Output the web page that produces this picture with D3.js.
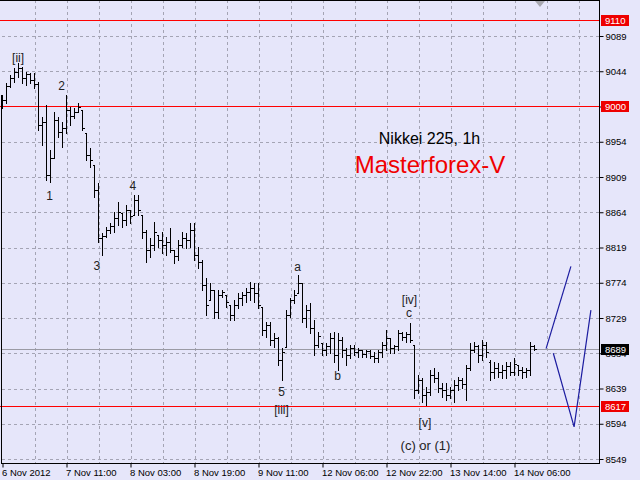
<!DOCTYPE html>
<html><head><meta charset="utf-8">
<script src="https://cdn.jsdelivr.net/npm/d3@7"></script>
<style>body{margin:0;background:#e6e6fa;overflow:hidden}svg{display:block}</style>
</head><body>
<svg id="c" width="640" height="480"></svg>
<script>
// ---- data ----
const timeLabels = ["6 Nov 2012","7 Nov 11:00","8 Nov 03:00","8 Nov 19:00","9 Nov 11:00","12 Nov 06:00","12 Nov 22:00","13 Nov 14:00","14 Nov 06:00"];
const timeLabelIdx = [0,16,32,48,64,80,96,112,128];
const priceTicks = [9089,9044,8999,8954,8909,8864,8819,8774,8729,8684,8639,8594,8549];
const high = [9014,9029,9039,9048,9055,9049,9043,9042,9042,9030,
8986,9001,8943,8992,8986,8979,9014,8998,8997,9003,
8995,8965,8946,8924,8901,8838,8845,8850,8864,8877,
8863,8873,8867,8886,8886,8860,8841,8831,8852,8835,
8839,8832,8844,8816,8829,8839,8838,8850,8850,8820,
8803,8780,8774,8765,8765,8765,8758,8746,8752,8761,
8762,8767,8775,8774,8774,8743,8724,8724,8710,8705,
8691,8739,8755,8765,8784,8774,8746,8748,8726,8711,
8697,8697,8710,8711,8710,8705,8691,8695,8695,8691,
8688,8688,8688,8686,8688,8698,8714,8704,8695,8714,
8711,8711,8723,8695,8656,8652,8641,8663,8665,8660,
8646,8646,8641,8650,8654,8652,8669,8697,8698,8695,
8701,8698,8675,8673,8672,8669,8673,8673,8678,8669,
8666,8665,8698,8695];
const low = [8997,9003,9024,9030,9037,9029,9026,9029,9023,8969,
8950,8905,8903,8933,8960,8947,8965,8975,8984,8992,
8969,8931,8922,8883,8826,8809,8832,8838,8839,8848,
8845,8848,8850,8860,8860,8831,8800,8807,8816,8820,
8812,8809,8813,8799,8803,8820,8818,8820,8803,8793,
8765,8733,8752,8729,8729,8756,8743,8726,8726,8742,
8746,8749,8752,8749,8742,8707,8705,8695,8692,8669,
8650,8692,8730,8748,8761,8724,8718,8710,8682,8692,
8682,8682,8684,8673,8663,8679,8669,8678,8682,8679,
8679,8679,8678,8673,8673,8679,8688,8684,8684,8688,
8701,8698,8698,8627,8633,8622,8618,8631,8647,8635,
8628,8624,8627,8622,8637,8640,8624,8663,8686,8673,
8675,8679,8650,8652,8654,8652,8652,8656,8656,8656,
8652,8654,8656,8688];
const open = [9002,9007,9025,9035,9043,9048,9035,9040,9033,9028,
8975,8979,8912,8933,8982,8966,8972,8995,8987,8992,
8995,8965,8937,8924,8892,8831,8834,8841,8846,8857,
8863,8854,8867,8860,8880,8860,8839,8816,8822,8835,
8829,8822,8826,8816,8808,8822,8831,8829,8841,8809,
8800,8771,8752,8765,8737,8758,8758,8746,8733,8746,
8755,8758,8762,8767,8761,8743,8714,8720,8701,8704,
8675,8692,8733,8752,8761,8774,8729,8739,8716,8695,
8697,8688,8693,8704,8682,8701,8688,8682,8691,8686,
8688,8683,8687,8680,8678,8686,8695,8704,8691,8693,
8710,8705,8709,8695,8637,8650,8631,8635,8656,8652,
8640,8637,8631,8637,8644,8650,8645,8665,8688,8693,
8682,8695,8673,8660,8665,8660,8663,8668,8660,8669,
8663,8660,8663,8693];
const close = [9007,9025,9035,9043,9048,9035,9040,9033,9028,8975,
8979,8912,8933,8982,8966,8972,8995,8987,8992,8998,
8972,8937,8931,8892,8831,8834,8841,8846,8857,8864,
8854,8867,8859,8880,8867,8839,8816,8822,8839,8829,
8822,8826,8816,8808,8822,8831,8829,8841,8809,8800,
8771,8746,8765,8737,8758,8762,8749,8733,8746,8755,
8758,8762,8767,8761,8746,8714,8720,8701,8704,8675,
8686,8733,8752,8758,8774,8729,8739,8716,8695,8706,
8688,8693,8704,8682,8701,8688,8682,8691,8686,8688,
8683,8687,8680,8678,8686,8695,8704,8691,8693,8710,
8705,8709,8701,8637,8650,8631,8635,8656,8652,8640,
8637,8631,8637,8644,8650,8645,8665,8688,8693,8682,
8695,8686,8660,8665,8660,8663,8668,8660,8670,8663,
8660,8663,8693,8689];
const levels = [9110, 9000, 8617];
const lastPrice = 8689;
const projUpIdx = [135.9, 142.1];
const projUpPrice = [8690, 8795];
const projDownIdx = [137.7, 142.9, 147.1];
const projDownPrice = [8684, 8590, 8739];
const waveText = ["[ii]","2","1","4","3","a","5","[iii]","b","[iv]","c","[v]","(c) or (1)"];
const waveIdx = [3.9,14.75,11.75,32.6,23.6,73.75,69.75,69.75,83.75,101.75,101.6,105.6,105.75];
const wavePrice = [9056,9020,8880,8892,8790,8789,8629,8606,8650,8747,8730,8590,8561];

// ---- chart ----
const svg = d3.select("#c");
const FONT = "'Liberation Sans', Arial, sans-serif";
const L = 2, R = 599, T = 0, B = 463;
const x = d3.scaleLinear().domain([0, 149]).range([2.5, 598.5]);
const y = d3.scaleLinear().domain([8549, 9089]).range([459, 36]);
const snap = v => Math.round(v) + 0.5;

svg.append("rect").attr("width", 640).attr("height", 480).attr("fill", "#e6e6fa");

const clip = svg.append("defs").append("clipPath").attr("id", "pc");
clip.append("rect").attr("x", L).attr("y", T).attr("width", R - L).attr("height", B - T);

const grid = svg.append("g").attr("stroke", "#a4a4b4").attr("stroke-dasharray", "3,3").attr("shape-rendering", "crispEdges");
priceTicks.forEach(p => grid.append("line").attr("x1", L).attr("x2", R).attr("y1", snap(y(p))).attr("y2", snap(y(p))));
d3.range(8, 150, 8).forEach(i => grid.append("line").attr("x1", snap(x(i))).attr("x2", snap(x(i))).attr("y1", T).attr("y2", B));

// current price line
svg.append("line").attr("x1", L).attr("x2", R).attr("y1", snap(y(lastPrice))).attr("y2", snap(y(lastPrice)))
  .attr("stroke", "#9a9aa4").attr("shape-rendering", "crispEdges");

// levels
svg.append("g").selectAll("line").data(levels).join("line")
  .attr("x1", 0).attr("x2", R).attr("y1", d => snap(y(d))).attr("y2", d => snap(y(d)))
  .attr("stroke", "#ff0000").attr("stroke-width", 1).attr("shape-rendering", "crispEdges");

// OHLC bars
const bars = svg.append("g").attr("clip-path", "url(#pc)").attr("stroke", "#000").attr("stroke-width", 1).attr("shape-rendering", "crispEdges").attr("fill", "none");
const idx = d3.range(high.length);
bars.selectAll("path").data(idx).join("path").attr("d", i => {
  const cx = x(i);
  const yh = Math.round(y(high[i])), yl = Math.round(y(low[i])) + 1;
  const yo = snap(y(open[i])), yc = snap(y(close[i]));
  return `M${cx},${yh}V${yl}M${cx - 1.5},${yo}H${cx}M${cx},${yc}H${cx + 2}`;
});

// projection lines
const pl = d3.line().x(d => x(d[0])).y(d => y(d[1]));
svg.append("path").attr("d", pl(projUpIdx.map((v, k) => [v, projUpPrice[k]])))
  .attr("fill", "none").attr("stroke", "#1c1ca0").attr("stroke-width", 1.2);
svg.append("path").attr("d", pl(projDownIdx.map((v, k) => [v, projDownPrice[k]])))
  .attr("fill", "none").attr("stroke", "#1c1ca0").attr("stroke-width", 1.2);

// frame
const fr = svg.append("g").attr("stroke", "#000").attr("shape-rendering", "crispEdges");
fr.append("line").attr("x1", 0).attr("x2", R + 0.5).attr("y1", 0.5).attr("y2", 0.5);
fr.append("line").attr("x1", R + 0.5).attr("x2", R + 0.5).attr("y1", 0).attr("y2", B + 0.5);
fr.append("line").attr("x1", 1).attr("x2", R + 0.5).attr("y1", B + 0.5).attr("y2", B + 0.5);
fr.append("line").attr("x1", 1.5).attr("x2", 1.5).attr("y1", 95).attr("y2", B + 0.5);

// shift marker
svg.append("path").attr("d", "M535,1L545,1L540,7Z").attr("fill", "#a8a8b0");

// right axis
const ya = d3.axisRight(y).tickValues(priceTicks).tickSize(4).tickPadding(2).tickFormat(d3.format("d"));
const gy = svg.append("g").attr("transform", `translate(${R + 0.5},0)`).call(ya);
gy.select(".domain").remove();
gy.selectAll(".tick line").attr("stroke", "#000");
gy.selectAll(".tick text").attr("font-family", FONT).attr("font-size", 9.5).attr("fill", "#000");

// bottom axis
const xa = d3.axisBottom(x).tickValues(timeLabelIdx).tickSize(4).tickPadding(2).tickFormat((d, k) => timeLabels[k]);
const gx = svg.append("g").attr("transform", `translate(0,${B + 0.5})`).call(xa);
gx.select(".domain").remove();
gx.selectAll(".tick line").attr("stroke", "#000");
gx.selectAll(".tick text").attr("font-family", FONT).attr("font-size", 9.5).attr("fill", "#000")
  .attr("text-anchor", "start").attr("dx", -1);

// price boxes
function box(p, bg) {
  const g = svg.append("g");
  const cy = y(p);
  g.append("rect").attr("x", 601).attr("y", Math.round(cy) - 5).attr("width", 28).attr("height", 11).attr("fill", bg);
  g.append("text").attr("x", 605).attr("y", Math.round(cy) + 3.5).attr("font-family", FONT).attr("font-size", 9.5)
    .attr("fill", "#fff").text(p);
}
levels.forEach(p => box(p, "#ee0000"));
box(lastPrice, "#000");

// wave labels
svg.append("g").selectAll("text").data(waveText).join("text")
  .attr("x", (d, k) => x(waveIdx[k])).attr("y", (d, k) => y(wavePrice[k]))
  .attr("text-anchor", "middle").attr("font-family", FONT)
  .attr("font-size", d => d.length > 5 ? 13 : 12).attr("fill", "#222").text(d => d);

// titles
svg.append("text").attr("x", 429.5).attr("y", 144).attr("text-anchor", "middle")
  .attr("font-family", FONT).attr("font-size", 16).attr("fill", "#000").text("Nikkei 225, 1h");
svg.append("text").attr("x", 430).attr("y", 173).attr("text-anchor", "middle")
  .attr("font-family", FONT).attr("font-size", 24).attr("fill", "#f00000").text("Masterforex-V");
</script>
</body></html>
